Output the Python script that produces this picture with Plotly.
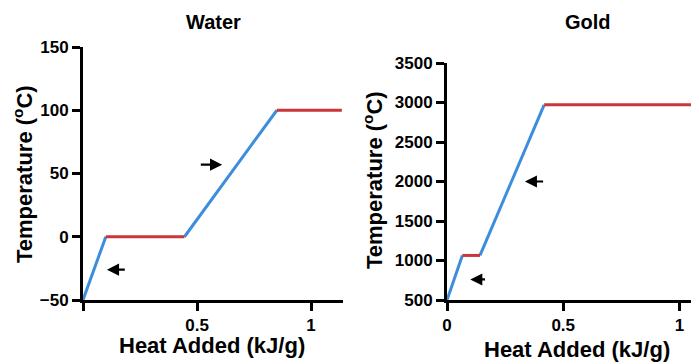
import plotly.graph_objects as go

# ---- Data ----
water_blue_x = [0.0, 0.10, None, 0.445, 0.85]
water_blue_y = [-50, 0, None, 0, 100]
water_red_x = [0.10, 0.445, None, 0.85, 1.135]
water_red_y = [0, 0, None, 100, 100]

gold_blue_x = [0.0, 0.066, None, 0.142, 0.418]
gold_blue_y = [500, 1064, None, 1064, 2970]
gold_red_x = [0.066, 0.142, None, 0.418, 1.05]
gold_red_y = [1064, 1064, None, 2970, 2970]

# arrows: (head_x, head_y, tail_x, tail_y)
water_arrows = [(0.105, -26, 0.19, -26), (0.61, 57, 0.51, 57)]
gold_arrows = [(0.10, 760, 0.17, 760), (0.335, 2000, 0.42, 2000)]

water_xticks = [0, 0.5, 1]
water_xticktext = ["", "0.5", "1"]
water_yticks = [-50, 0, 50, 100, 150]
gold_xticks = [0, 0.5, 1]
gold_xticktext = ["0", "0.5", "1"]
gold_yticks = [500, 1000, 1500, 2000, 2500, 3000, 3500]

BLUE = "#3d8ddd"
RED = "#c9363b"
FONT = "Liberation Sans, Arial, sans-serif"
W, H = 699, 364
OFF = 8  # page body margin

fig = go.Figure()
fig.add_trace(go.Scatter(x=water_blue_x, y=water_blue_y, mode="lines", line=dict(color=BLUE, width=3), xaxis="x", yaxis="y", cliponaxis=False))
fig.add_trace(go.Scatter(x=water_red_x, y=water_red_y, mode="lines", line=dict(color=RED, width=3), xaxis="x", yaxis="y", cliponaxis=False))
fig.add_trace(go.Scatter(x=gold_blue_x, y=gold_blue_y, mode="lines", line=dict(color=BLUE, width=3), xaxis="x2", yaxis="y2", cliponaxis=False))
fig.add_trace(go.Scatter(x=gold_red_x, y=gold_red_y, mode="lines", line=dict(color=RED, width=3), xaxis="x2", yaxis="y2", cliponaxis=False))

tickfont = dict(family=FONT, size=17, color="black", weight="bold")
axcommon = dict(showline=True, linecolor="black", linewidth=3, ticks="outside",
                ticklen=8, tickwidth=3, tickcolor="black", showgrid=False,
                zeroline=False, tickfont=tickfont, fixedrange=True, automargin=False)

def px_x(p):
    return (p - OFF) / W

def px_y(p):
    return 1 - (p - OFF) / H

fig.update_layout(
    width=W, height=H, showlegend=False,
    margin=dict(l=0, r=0, t=0, b=0, autoexpand=False),
    paper_bgcolor="white", plot_bgcolor="white",
    xaxis=dict(domain=[px_x(83), px_x(343)], range=[0, 1.14], tickvals=water_xticks,
               ticktext=water_xticktext, anchor="y", **axcommon),
    yaxis=dict(domain=[px_y(300), px_y(47)], range=[-50, 150], tickvals=water_yticks,
               anchor="x", **axcommon),
    xaxis2=dict(domain=[px_x(447), px_x(698)], range=[0, 1.08], tickvals=gold_xticks,
                ticktext=gold_xticktext, anchor="y2", **axcommon),
    yaxis2=dict(domain=[px_y(300), px_y(63)], range=[500, 3500], tickvals=gold_yticks,
                anchor="x2", **axcommon),
)

annots = []
for (hx, hy, tx, ty) in water_arrows:
    annots.append(dict(x=hx, y=hy, ax=tx, ay=ty, xref="x", yref="y", axref="x", ayref="y",
                       showarrow=True, arrowhead=2, arrowsize=1.1, arrowwidth=2.2,
                       arrowcolor="black", text=""))
for (hx, hy, tx, ty) in gold_arrows:
    annots.append(dict(x=hx, y=hy, ax=tx, ay=ty, xref="x2", yref="y2", axref="x2", ayref="y2",
                       showarrow=True, arrowhead=2, arrowsize=1.1, arrowwidth=2.2,
                       arrowcolor="black", text=""))

def label(text, x, y, size, angle=0):
    return dict(text=text, x=px_x(x), y=px_y(y), xref="paper", yref="paper",
                showarrow=False, textangle=angle, xanchor="center", yanchor="middle",
                font=dict(family=FONT, size=size, color="black", weight="bold"))

annots += [
    label("Water", 213, 22, 20),
    label("Gold", 588, 22, 20),
    label("Heat Added (kJ/g)", 212, 345, 22),
    label("Heat Added (kJ/g)", 577, 349, 22),
    label("Temperature (<sup>o</sup>C)", 23, 174, 22, -90),
    label("Temperature (<sup>o</sup>C)", 373, 180, 22, -90),
]
fig.update_layout(annotations=annots)

fig.write_html("out.html")
